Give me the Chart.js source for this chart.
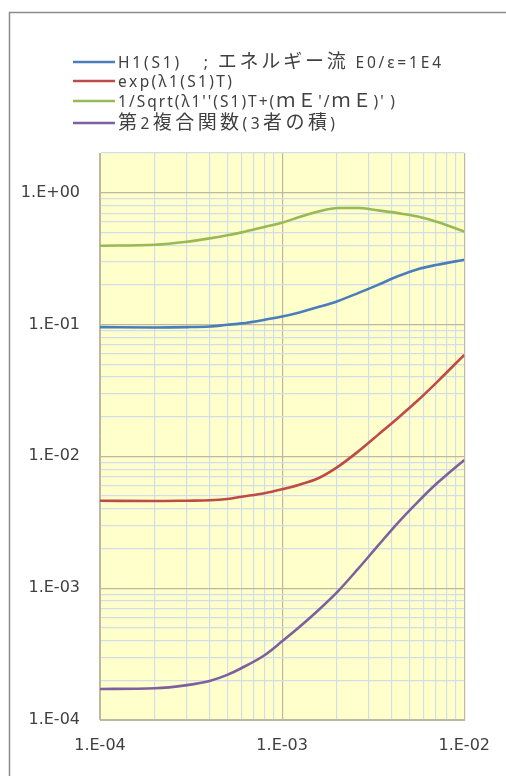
<!DOCTYPE html>
<html><head><meta charset="utf-8">
<script src="https://cdn.jsdelivr.net/npm/chart.js@4/dist/chart.umd.min.js"></script>
<style>html,body{margin:0;padding:0;background:#fff;overflow:hidden}canvas{display:block}</style>
</head><body>
<canvas id="c" width="506" height="776"></canvas>
<script>
// ---- data ----
const xValues = [1e-4, 2e-4, 3e-4, 4e-4, 5e-4, 6e-4, 8e-4, 1e-3, 1.23e-3, 1.58e-3, 2.03e-3, 2.61e-3, 3.36e-3, 4.31e-3, 5.55e-3, 7.13e-3, 1e-2];
const seriesH1   = [0.0955, 0.095, 0.0955, 0.0966, 0.0995, 0.102, 0.1086, 0.115, 0.123, 0.1355, 0.151, 0.173, 0.2, 0.232, 0.263, 0.284, 0.31];
const seriesExp  = [0.00461, 0.00458, 0.00461, 0.00464, 0.00475, 0.00494, 0.00525, 0.00563, 0.00607, 0.00682, 0.00836, 0.01086, 0.01455, 0.01946, 0.0265, 0.0369, 0.0589];
const seriesSqrt = [0.396, 0.403, 0.425, 0.45, 0.475, 0.5, 0.55, 0.592, 0.65, 0.72, 0.765, 0.765, 0.734, 0.70, 0.66, 0.60, 0.508];
const seriesProd = [1.72e-4, 1.74e-4, 1.84e-4, 1.98e-4, 2.2e-4, 2.48e-4, 3.1e-4, 3.95e-4, 5.0e-4, 6.8e-4, 9.5e-4, 1.4e-3, 2.1e-3, 3.12e-3, 4.5e-3, 6.3e-3, 9.4e-3];
const seriesLabels = ["H1(S1)\u3000; エネルギー流 E0/ε=1E4", "exp(λ1(S1)T)", "1/Sqrt(λ1''(S1)T+(ｍＥ'/ｍＥ)'\u2009)", "第2複合関数(3者の積)"];
const xMin = 1e-4, xMax = 1e-2, yMin = 1e-4, yMax = 2;

const colors = ["#4A7EBB", "#BE4B48", "#98B954", "#7D60A0"];
const LATIN = '"Noto Sans", "Noto Sans CJK JP", sans-serif';
const CJK = '"Noto Sans CJK JP", "Noto Sans", sans-serif';
const TICKF = '"DejaVu Sans", sans-serif';
const legendRowY = [62, 81, 101, 123];
const legendRowEnd = [441, 232, 395, 335];

function pts(ys){ return xValues.map((x,i)=>({x:x, y:ys[i]})); }
function isDecade(v){ const l=Math.log10(v); return Math.abs(l-Math.round(l))<1e-9; }
function fmt(v){ const e=Math.round(Math.log10(v)); return "1.E"+(e>=0?"+":"-")+String(Math.abs(e)).padStart(2,"0"); }
function logTicks(min,max){ const t=[]; for(let e=Math.floor(Math.log10(min)); e<=Math.ceil(Math.log10(max)); e++){ for(let s=1;s<10;s++){ const v=+(s*Math.pow(10,e)).toPrecision(6); if(v>=min*0.999999 && v<=max*1.000001) t.push({value:v}); } } return t; }
function isWide(ch){ return ch.codePointAt(0) >= 0x2E80; }

function drawMixed(ctx, text, x, y, endX){
  const chars = [...text];
  const fonts = chars.map(ch => isWide(ch) ? '19px ' + CJK : '15.5px ' + LATIN);
  const widths = chars.map((ch,i)=>{ ctx.font = fonts[i]; return ctx.measureText(ch).width; });
  const natural = widths.reduce((a,b)=>a+b,0);
  const extra = Math.max(0, (endX - x - natural) / Math.max(1, chars.length-1));
  chars.forEach((ch,i)=>{ ctx.font = fonts[i]; ctx.fillText(ch, x, y); x += widths[i] + extra; });
}

const bgPlugin = {
  id:'bg',
  beforeDraw(chart){
    const {ctx, chartArea:a} = chart;
    ctx.save();
    ctx.fillStyle = '#fff'; ctx.fillRect(0,0,chart.width,chart.height);
    ctx.strokeStyle = '#8c8c8c'; ctx.lineWidth = 1.5;
    ctx.beginPath(); ctx.moveTo(9.5, 776); ctx.lineTo(9.5, 12.5); ctx.lineTo(506, 12.5); ctx.stroke();
    ctx.fillStyle = '#FFFFCC'; ctx.fillRect(a.left, a.top, a.right-a.left, a.bottom-a.top);
    ctx.restore();
  },
  afterDraw(chart){
    const ctx = chart.ctx;
    ctx.save();
    ctx.textBaseline = 'alphabetic';
    ctx.textAlign = 'left';
    chart.data.datasets.forEach((ds,i)=>{
      const ry = legendRowY[i];
      ctx.strokeStyle = ds.borderColor; ctx.lineWidth = 2.5;
      ctx.beginPath(); ctx.moveTo(73, ry); ctx.lineTo(115, ry); ctx.stroke();
      ctx.fillStyle = '#404040';
      drawMixed(ctx, ds.label, 118, ry + 6, legendRowEnd[i]);
    });
    ctx.restore();
  }
};

const gridColor = (c)=> (c.tick && isDecade(c.tick.value)) ? '#BDB7A4' : '#D2DEE6';
const tickFont = {family:TICKF, size:16};

new Chart(document.getElementById('c'), {
  type:'scatter',
  data:{ datasets:[seriesH1, seriesExp, seriesSqrt, seriesProd].map((s,i)=>({
    label: seriesLabels[i], data: pts(s), showLine:true, borderColor: colors[i], backgroundColor: colors[i],
    borderWidth: 2.6, pointRadius: 0, cubicInterpolationMode:'monotone', fill:false
  }))},
  options:{
    responsive:false, animation:false,
    layout:{ padding:{ left:0, top:153, right:38, bottom:14 } },
    plugins:{ legend:{display:false}, tooltip:{enabled:false} },
    scales:{
      x:{ type:'logarithmic', min:xMin, max:xMax,
        afterBuildTicks(s){ s.ticks = logTicks(xMin,xMax); },
        afterFit(s){ s.height = 42; },
        grid:{ color:gridColor, lineWidth:1.2, drawTicks:false },
        border:{ color:'#BDB7A4', width:1 },
        ticks:{ autoSkip:false, maxRotation:0, padding:16, color:'#404040', font:tickFont,
          callback:(v)=> isDecade(v) ? fmt(v) : '' } },
      y:{ type:'logarithmic', min:yMin, max:yMax,
        afterBuildTicks(s){ s.ticks = logTicks(yMin,yMax); },
        afterFit(s){ s.width = 100; },
        grid:{ color:gridColor, lineWidth:1.2, drawTicks:false },
        border:{ color:'#BDB7A4', width:1 },
        ticks:{ autoSkip:false, padding:20, color:'#404040', font:tickFont,
          callback:(v)=> isDecade(v) ? fmt(v) : '' } }
    }
  },
  plugins:[bgPlugin]
});
</script>
</body></html>
